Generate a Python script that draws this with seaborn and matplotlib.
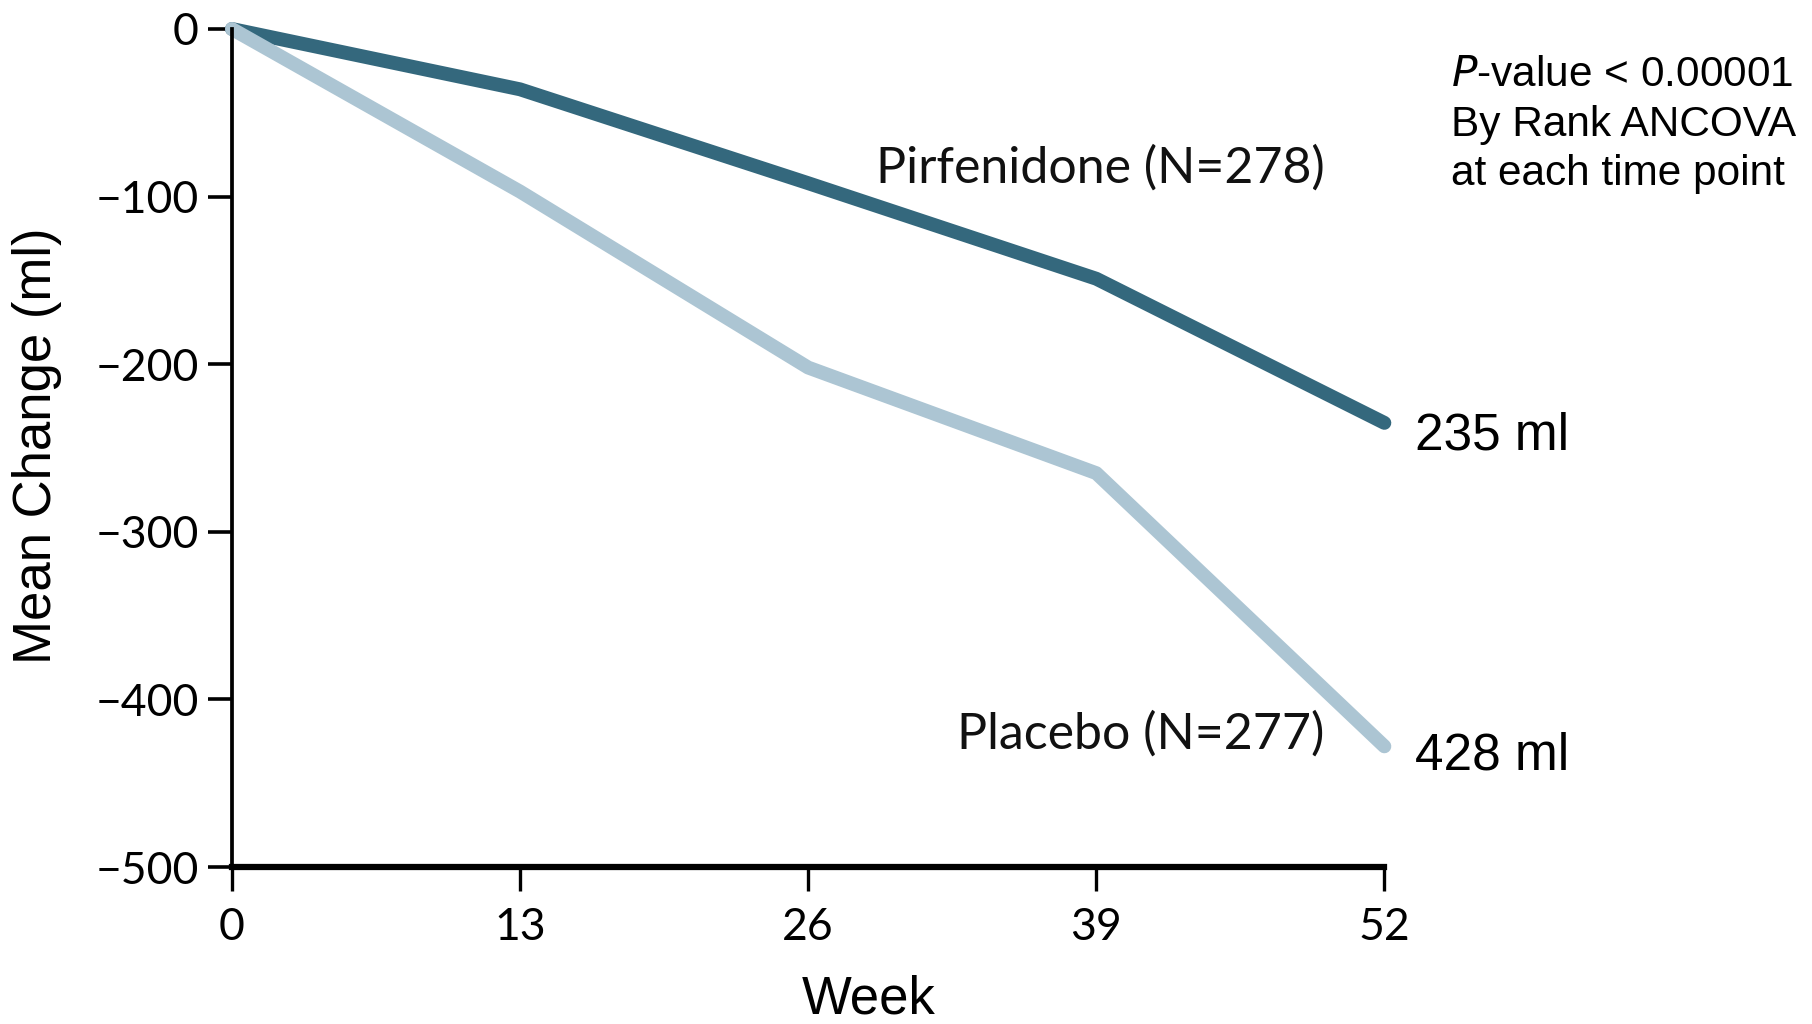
import pandas as pd
import matplotlib
matplotlib.use("Agg")
import matplotlib.pyplot as plt
import seaborn as sns

# values
weeks = [0, 13, 26, 39, 52]
pirfenidone = [0, -36, -92, -149, -235]
placebo = [0, -97, -202, -265, -428]
groups = ["Pirfenidone", "Placebo"]
group_labels = ["Pirfenidone (N=278)", "Placebo (N=277)"]
end_labels = ["235 ml", "428 ml"]
y_ticks = [0, -100, -200, -300, -400, -500]

df = pd.DataFrame({
    "Week": weeks * 2,
    "Change": pirfenidone + placebo,
    "Group": [groups[0]] * len(weeks) + [groups[1]] * len(weeks),
})

sns.set_style("white")
arial = ["Liberation Sans", "DejaVu Sans"]
plt.rcParams["font.family"] = arial
plt.rcParams["text.color"] = "black"
plt.rcParams["axes.unicode_minus"] = True

fig = plt.figure(figsize=(18.12, 10.24), dpi=100)
ax = fig.add_axes([0.128, 0.1533, 0.636, 0.8184])

palette = {"Pirfenidone": "#34687d", "Placebo": "#acc5d3"}
sns.lineplot(data=df, x="Week", y="Change", hue="Group", hue_order=groups,
             palette=palette, linewidth=10, legend=False, ax=ax,
             solid_capstyle="round", solid_joinstyle="round", clip_on=False)

ax.set_xlim(0, 52)
ax.set_ylim(-500, 0)
ax.set_xticks(weeks)
ax.set_yticks(y_ticks)
tick_font = ["Lato", "DejaVu Sans"]
ax.set_xticklabels([str(w) for w in weeks], family=tick_font, fontsize=32)
ax.set_yticklabels(["0"] + ["\u2212" + str(-v) for v in y_ticks[1:]],
                   family=tick_font, fontsize=32)

for s in ["top", "right"]:
    ax.spines[s].set_visible(False)
ax.spines["left"].set_linewidth(2.7)
ax.spines["bottom"].set_linewidth(4.5)
ax.spines["left"].set_color("black")
ax.spines["bottom"].set_color("black")
ax.tick_params(axis="y", direction="out", length=17, width=2.6, pad=7, colors="black", left=True)
ax.tick_params(axis="x", direction="out", length=17, width=2.4, pad=12, colors="black", bottom=True)

ax.set_xlabel("")
ax.set_ylabel("")
fig.text(0.0204, 0.565, "Mean Change (ml)", rotation=90, ha="center", va="center",
         fontsize=38, family=arial, color="black")
fig.text(0.4796, 0.024, "Week", ha="center", va="center", fontsize=38,
         family=arial, color="black")

# series labels
ax.text(49.3, -83, group_labels[0], ha="right", va="center", family=tick_font,
        fontsize=36, color="#111111")
ax.text(49.3, -421, group_labels[1], ha="right", va="center", family=tick_font,
        fontsize=36, color="#111111")
ax.text(53.4, pirfenidone[-1] - 8, end_labels[0], ha="left", va="center",
        fontsize=37, family=arial, color="black", clip_on=False)
ax.text(53.4, placebo[-1] - 6, end_labels[1], ha="left", va="center",
        fontsize=37, family=arial, color="black", clip_on=False)

fig.text(0.801, 0.946, "$\\it{P}$-value < 0.00001\nBy Rank ANCOVA\nat each time point",
         ha="left", va="top", fontsize=30.5, linespacing=1.3, family=arial, color="black")

fig.savefig("out.png", dpi=100)
